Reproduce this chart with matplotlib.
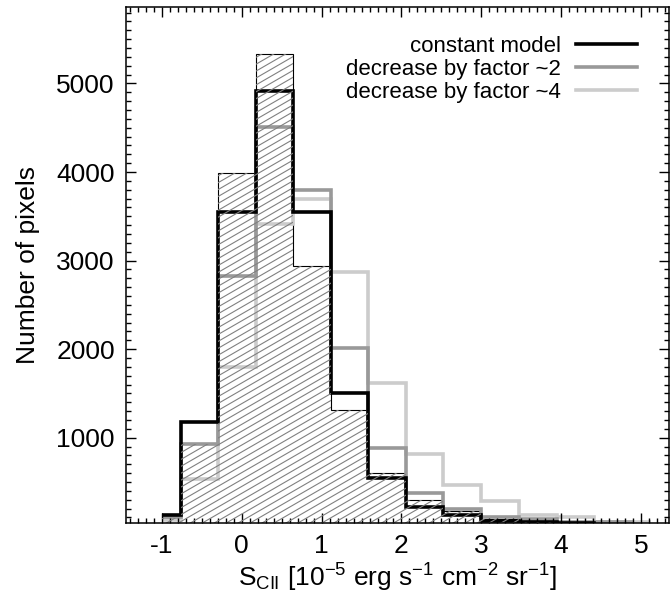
import numpy as np
import matplotlib
matplotlib.use('Agg')
import matplotlib.pyplot as plt
from matplotlib.ticker import MultipleLocator
from matplotlib.lines import Line2D
from matplotlib.collections import LineCollection

# Histogram bin centres (10^-5 erg s^-1 cm^-2 sr^-1)
bin_centers = [-1.0, -0.53, -0.06, 0.41, 0.88, 1.35, 1.82, 2.29, 2.76, 3.24, 3.71, 4.18, 4.65, 5.12]

# Number of pixels per bin
observed = [90, 930, 3990, 5330, 2940, 1310, 605, 295, 176, 80, 50, 30, 15, 0]
constant_model = [128, 1174, 3550, 4913, 3544, 1501, 542, 215, 125, 58, 45, 40, 0, 0]
decrease_2 = [100, 925, 2825, 4510, 3796, 2009, 880, 379, 192, 108, 79, 52, 45, 0]
decrease_4 = [70, 530, 1795, 3408, 3690, 2874, 1621, 816, 466, 286, 128, 100, 45, 45]

labels = ['constant model', 'decrease by factor ~2', 'decrease by factor ~4']
colors = ['k', '#999999', '#cccccc']


'''
IDL psym=10 style: steps change half way between centres,
first and last bins are only drawn from their centre
'''
def step_edges(centers):
	edges = [centers[0]]
	for i in range(len(centers) - 1):
		edges += [0.5 * (centers[i] + centers[i+1])]
	edges += [centers[-1]]
	return edges


'''
Hatch lines at a shallow angle (like IDL line_fill), clipped to a patch
'''
def add_hatch(ax, patch, fig, angle=30.0, spacing=6.9, color='#808080', lw=0.8):
	pos = ax.get_position()
	w = pos.width * fig.get_figwidth() * fig.dpi
	h = pos.height * fig.get_figheight() * fig.dpi
	t = np.tan(np.radians(angle))
	segs = []
	for b in np.arange(-t * w, h + spacing, spacing):
		segs += [[(0.0, b / h), (1.0, (t * w + b) / h)]]
	lc = LineCollection(segs, colors=color, linewidths=lw, transform=ax.transAxes)
	ax.add_collection(lc)
	lc.set_clip_path(patch)


plt.rcParams['font.family'] = ['Liberation Sans', 'DejaVu Sans']
plt.rcParams['mathtext.fontset'] = 'custom'
plt.rcParams['mathtext.rm'] = 'Liberation Sans'
plt.rcParams['mathtext.it'] = 'Liberation Sans:italic'
plt.rcParams['axes.unicode_minus'] = False

fig = plt.figure(figsize=(6.72, 6.03), dpi=100)
ax = fig.add_axes([0.1875, 0.1332, 0.808, 0.8547])

edges = step_edges(bin_centers)

# hatched histogram (thin outline)
fillpatch = ax.stairs(observed, edges, fill=True, baseline=0, facecolor='none',
	edgecolor='none', linewidth=0)
add_hatch(ax, fillpatch, fig)
ax.stairs(observed, edges, baseline=None, color='k', linewidth=0.8)

# model histograms
ax.stairs(decrease_4, edges, baseline=None, color=colors[2], linewidth=2.6)
ax.stairs(decrease_2, edges, baseline=None, color=colors[1], linewidth=2.6)
ax.stairs(constant_model, edges, baseline=None, color=colors[0], linewidth=2.6)

ax.set_xlim(-1.45, 5.35)
ax.set_ylim(40, 5860)

ax.xaxis.set_major_locator(MultipleLocator(1))
ax.xaxis.set_minor_locator(MultipleLocator(0.1))
ax.yaxis.set_major_locator(MultipleLocator(1000))
ax.yaxis.set_minor_locator(MultipleLocator(100))
ax.tick_params(which='both', direction='in', top=True, right=True, width=1.0)
ax.tick_params(which='major', length=7, labelsize=19, pad=8)
ax.tick_params(which='minor', length=3.5)
for sp in ax.spines.values():
	sp.set_linewidth(1.1)

ax.set_xlabel(r'S$_{\rm CII}$ [10$^{-5}$ erg s$^{-1}$ cm$^{-2}$ sr$^{-1}$]', fontsize=19, labelpad=3)
ax.set_ylabel('Number of pixels', fontsize=19, labelpad=12)

# legend: text first, line on the right
handles = [Line2D([], [], color=c, linewidth=2.6) for c in colors]
ax.legend(handles, labels, loc='upper right', bbox_to_anchor=(0.942, 0.944), frameon=False,
	markerfirst=False, fontsize=16, handlelength=2.75, handletextpad=0.68,
	labelspacing=0.08, borderaxespad=0, borderpad=0)

fig.savefig('out.png', dpi=100)
plt.close(fig)
